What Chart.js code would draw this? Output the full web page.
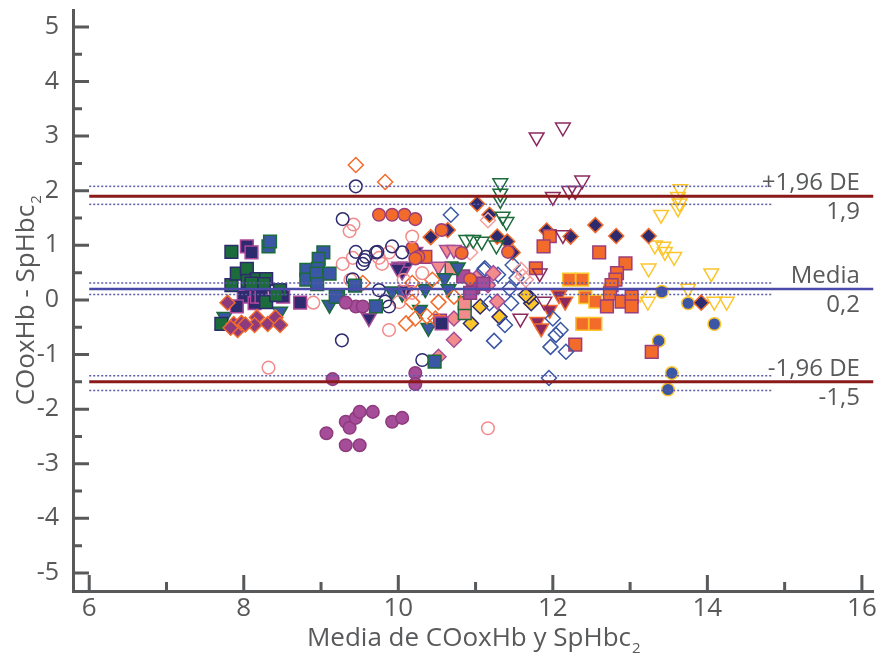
<!DOCTYPE html>
<html>
<head>
<meta charset="utf-8">
<script src="https://cdn.jsdelivr.net/npm/chart.js@4.4.1/dist/chart.umd.min.js"></script>
<style>
  html, body { margin: 0; padding: 0; background: #fff; }
  #wrap { width: 884px; height: 661px; }
</style>
</head>
<body>
<div id="wrap"><canvas id="chart"></canvas></div>
<script>
// ejes
const xTicks = [6, 8, 10, 12, 14, 16];
const xMinorTicks = [7, 9, 11, 13, 15];
const yTicks = [-5, -4, -3, -2, -1, 0, 1, 2, 3, 4, 5];
const yMinorTicks = [-4.5, -3.5, -2.5, -1.5, -0.5, 0.5, 1.5, 2.5, 3.5, 4.5];
const xTitle = 'Media de COoxHb y SpHbc';
const yTitle = 'COoxHb - SpHbc';
const titleSub = '2';

// limites de concordancia
const meanDiff = 0.2;
const upperLoA = 1.9;
const lowerLoA = -1.5;
const meanCI = [0.31, 0.10];
const upperCI = [2.08, 1.75];
const lowerCI = [-1.39, -1.66];
const refLabelsAbove = ['+1,96 DE', 'Media', '-1,96 DE'];
const refLabelsBelow = ['1,9', '0,2', '-1,5'];

// series (media, diferencia)
const greenSquares = [[7.84,0.88],[7.84,0.27],[7.91,0.48],[8.04,0.57],[8.05,0.35],[8.17,0.38],[8.29,0.38],[8.26,0.29],[8.29,-0.04],[7.71,-0.44],[8.47,0.18],[8.42,0.09],[8.1,0.3]];
const navySquares = [[8.04,0.98],[8.10,0.87],[8.0,0.06],[7.91,-0.12],[8.14,-0.06],[8.17,0.06],[8.23,0.06],[8.51,0.06],[8.73,-0.05],[10.56,-0.43]];
const blueSquares = [[8.32,0.98],[8.34,1.07],[9.03,0.87],[8.97,0.75],[8.81,0.55],[8.96,0.57],[9.11,0.48],[8.81,0.37],[8.94,0.48],[8.95,0.29],[9.22,0.06],[9.44,0.26],[9.19,0.06],[9.71,-0.12],[10.47,-1.13]];
const purpleDiamonds = [[7.79,-0.05],[7.87,-0.44],[7.92,-0.55],[7.97,-0.42],[8.17,-0.32],[8.14,-0.46],[8.31,-0.44],[8.41,-0.32],[8.47,-0.46],[7.83,-0.51],[8.02,-0.45]];
const blueTriangles = [[7.75,-0.31],[8.47,-0.21],[9.11,-0.09],[9.92,0.16],[10.35,0.2],[10.39,-0.51],[10.6,0.4],[10.77,0.6],[10.28,-0.18],[10.65,0.2],[10.05,0.12]];
const navyOpenCircles = [[9.45,2.08],[9.28,1.48],[9.45,0.88],[9.54,0.66],[9.58,0.79],[9.71,0.87],[9.92,0.98],[10.05,0.87],[9.41,0.38],[9.75,0.18],[9.83,-0.03],[9.88,-0.12],[9.27,-0.74],[10.31,-1.1],[9.56,0.73],[9.73,0.88]];
const pinkOpenCircles = [[9.37,1.26],[9.42,1.38],[9.28,0.66],[9.41,0.77],[9.75,0.77],[9.79,0.66],[9.88,0.87],[10.18,1.16],[8.9,-0.05],[9.88,-0.55],[10.01,-0.04],[10.07,0.37],[10.31,0.49],[10.18,0.13],[9.38,0.37],[11.16,-2.35],[8.32,-1.24]];
const magentaCircles = [[9.15,-1.45],[9.07,-2.44],[9.32,-2.23],[9.37,-2.34],[9.45,-2.16],[9.5,-2.05],[9.67,-2.05],[9.92,-2.23],[9.32,-2.66],[9.5,-2.66],[10.22,-1.34],[10.22,-1.54],[10.05,-2.16],[9.45,-0.12],[9.32,-0.05],[9.54,-0.12]];
const orangeCircles = [[9.75,1.56],[9.92,1.56],[10.08,1.56],[10.22,1.48],[10.18,0.95],[10.26,0.79],[10.56,1.28],[10.82,0.86],[10.93,0.38],[11.42,0.88],[10.22,0.76]];
const orangeOpenDiamonds = [[9.83,2.16],[9.45,2.47],[9.54,0.31],[10.44,0.37],[10.18,0.31],[10.18,-0.04],[10.52,-0.04],[10.1,-0.43],[10.22,-0.34],[10.48,-0.34],[10.37,-0.3],[10.72,0.06]];
const navyTriangles = [[10.22,0.88],[9.62,-0.33],[10.01,0.61],[10.1,0.61],[10.05,0.52],[10.1,0.18],[9.99,0.58]];
const navyDiamonds = [[11.02,1.76],[11.18,1.56],[10.64,1.28],[10.42,1.15],[11.28,1.16],[11.41,1.07],[11.48,0.87],[11.92,1.27],[12.23,1.16],[12.55,1.37],[12.82,1.17],[13.24,1.17],[13.92,-0.05]];
const pinkTriangles = [[10.63,0.92],[10.72,0.92],[10.52,0.61]];
const greenOpenTriangles = [[11.32,2.14],[11.32,1.95],[11.32,1.83],[11.35,1.53],[11.4,1.43],[10.88,1.1],[10.97,1.1],[11.08,1.07],[11.27,1.0]];
const pinkDiamonds = [[10.72,-0.34],[10.72,-0.73],[10.52,-1.04],[11.28,-0.03],[11.23,0.49],[11.01,0.4],[11.16,0.27]];
const blueOpenDiamonds = [[10.68,1.56],[11.12,0.58],[11.48,0.64],[11.29,0.46],[11.53,0.4],[11.44,0.21],[11.24,-0.75],[11.38,-0.46],[11.46,-0.06],[11.18,-0.06],[11.11,0.55],[12.0,-0.34],[11.97,-0.86],[12.1,-0.55],[12.17,-0.95],[12.04,-0.64],[11.95,-1.43]];
const yellowDiamonds = [[10.94,-0.43],[11.06,-0.12],[11.31,-0.31],[11.72,-0.06],[11.69,0.06],[11.65,0.09]];
const maroonOpenTriangles = [[11.79,2.98],[12.13,3.16],[12.38,2.19],[12.21,2.0],[12.29,2.0],[12.0,1.89],[12.13,1.19],[11.83,0.49],[11.89,-0.03],[11.58,-0.34]];
const maroonTriangles = [[12.08,0.09],[12.16,-0.03],[11.96,-0.18],[11.8,-0.4],[11.85,-0.52]];
const orangeSquares = [[11.96,1.17],[11.88,0.98],[12.6,0.87],[12.94,0.67],[12.83,0.49],[12.81,0.37],[12.76,0.27],[12.74,0.12],[12.7,-0.12],[12.89,-0.03],[13.02,0.06],[13.02,-0.12],[11.78,0.58],[12.29,-0.82],[13.28,-0.95],[10.35,0.79],[10.54,-0.38]];
const orangeYellowSquares = [[12.21,0.37],[12.38,0.37],[12.42,0.05],[12.55,-0.03],[12.38,-0.44],[12.55,-0.44],[12.74,0.18]];
const yellowOpenTriangles = [[13.65,2.03],[13.62,1.89],[13.64,1.77],[13.62,1.68],[13.4,1.56],[13.32,1.0],[13.43,0.98],[13.45,0.88],[13.57,0.79],[13.24,0.58],[14.05,0.49],[13.75,0.21],[13.23,-0.03],[14.09,-0.03],[14.25,-0.03],[13.13,0.12]];
const blueCircles = [[13.41,0.15],[13.75,-0.06],[14.09,-0.44],[13.37,-0.75],[13.54,-1.34],[13.49,-1.64]];
const pinkOpenDiamonds = [[11.16,1.46],[10.93,0.87],[11.59,0.55],[11.65,0.37],[11.61,0.43]];
const magentaSquares = [[10.84,0.43],[10.97,0.24],[10.93,0.13],[11.1,0.3]];
const pinkSquares = [[10.86,-0.24],[10.86,-0.06],[10.69,0.58]];

const textColor = '#58595b';
const fontFamily = "'Open Sans', sans-serif";
const navy = '#2e2a6e', green = '#1b6b3b', blue = '#3a56a5', magenta = '#a64d9a',
      orange = '#f26b2a', pink = '#f28c8c', yellow = '#fcc52b', maroon = '#8c2a5e',
      none = 'rgba(0,0,0,0)';

function markers(points, shape, fill, stroke, radius, rotation) {
    return {
        type: 'scatter',
        data: points.map(p => ({ x: p[0], y: p[1] })),
        pointStyle: shape,
        pointBackgroundColor: fill,
        pointBorderColor: stroke,
        pointBorderWidth: 1.5,
        pointRadius: radius,
        pointHoverRadius: radius,
        pointRotation: rotation || 0,
        order: 2
    };
}

function hline(value, x1, color, width, dash) {
    return {
        type: 'scatter',
        showLine: true,
        data: [{ x: 6, y: value }, { x: x1, y: value }],
        borderColor: color,
        borderWidth: width,
        borderDash: dash || [],
        pointRadius: 0,
        order: 1
    };
}

const dotted = '#5b5ba8';
const datasets = [
    markers(magentaCircles, 'circle', magenta, '#8e3b7e', 6.3),
    markers(purpleDiamonds, 'rectRot', '#8e3b7e', orange, 7.5),
    markers(greenSquares, 'rect', green, navy, 9),
    markers(navySquares, 'rect', navy, '#b0479a', 9),
    markers(blueSquares, 'rect', blue, green, 9),
    markers(navyOpenCircles, 'circle', none, navy, 6.3),
    markers(pinkOpenCircles, 'circle', none, pink, 6.3),
    markers(orangeCircles, 'circle', orange, '#9a3f7e', 6.3),
    markers(orangeOpenDiamonds, 'rectRot', none, orange, 7.5),
    markers(navyTriangles, 'triangle', navy, magenta, 8.5, 180),
    markers(blueTriangles, 'triangle', blue, green, 8.5, 180),
    markers(pinkTriangles, 'triangle', pink, magenta, 8.5, 180),
    markers(greenOpenTriangles, 'triangle', none, green, 8.5, 180),
    markers(magentaSquares, 'rect', magenta, '#8e3b7e', 9),
    markers(pinkSquares, 'rect', pink, green, 9),
    markers(pinkDiamonds, 'rectRot', pink, magenta, 7.5),
    markers(pinkOpenDiamonds, 'rectRot', none, '#f4a0a0', 7.5),
    markers(blueOpenDiamonds, 'rectRot', none, blue, 7.5),
    markers(yellowDiamonds, 'rectRot', yellow, navy, 7.5),
    markers(maroonOpenTriangles, 'triangle', none, maroon, 8.5, 180),
    markers(maroonTriangles, 'triangle', maroon, orange, 8.5, 180),
    markers(orangeSquares, 'rect', orange, '#9a3f7e', 9),
    markers(orangeYellowSquares, 'rect', orange, yellow, 9),
    markers(navyDiamonds, 'rectRot', navy, orange, 7.5),
    markers(yellowOpenTriangles, 'triangle', none, yellow, 8.5, 180),
    markers(blueCircles, 'circle', blue, yellow, 6.3),
    hline(upperCI[0], 14.85, dotted, 1.5, [2, 2]),
    hline(upperCI[1], 14.85, dotted, 1.5, [2, 2]),
    hline(meanCI[0], 14.85, dotted, 1.5, [2, 2]),
    hline(meanCI[1], 14.85, dotted, 1.5, [2, 2]),
    hline(lowerCI[0], 14.85, dotted, 1.5, [2, 2]),
    hline(lowerCI[1], 14.85, dotted, 1.5, [2, 2]),
    hline(upperLoA, 16.15, '#8b1a1a', 3),
    hline(meanDiff, 16.15, '#4a4aa8', 2.5),
    hline(lowerLoA, 16.15, '#8b1a1a', 3)
];

// marcas hacia dentro, textos de los limites y titulos con subindice
const decorations = {
    id: 'decorations',
    afterDraw(chart) {
        const { ctx, chartArea: a, scales: { x, y } } = chart;
        ctx.save();
        ctx.strokeStyle = textColor;
        ctx.lineWidth = 3;
        ctx.beginPath();
        xTicks.forEach(v => { const p = x.getPixelForValue(v); ctx.moveTo(p, a.bottom); ctx.lineTo(p, a.bottom - 16); });
        xMinorTicks.forEach(v => { const p = x.getPixelForValue(v); ctx.moveTo(p, a.bottom); ctx.lineTo(p, a.bottom - 9); });
        yTicks.forEach(v => { const p = y.getPixelForValue(v); ctx.moveTo(a.left, p); ctx.lineTo(a.left + 16, p); });
        yMinorTicks.forEach(v => { const p = y.getPixelForValue(v); ctx.moveTo(a.left, p); ctx.lineTo(a.left + 9, p); });
        ctx.stroke();

        ctx.fillStyle = textColor;
        ctx.font = '24px ' + fontFamily;
        ctx.textAlign = 'right';
        ctx.textBaseline = 'alphabetic';
        const right = x.getPixelForValue(16) - 2;
        [upperLoA, meanDiff, lowerLoA].forEach((v, i) => {
            const p = y.getPixelForValue(v);
            ctx.fillText(refLabelsAbove[i], right, p - 6);
            ctx.fillText(refLabelsBelow[i], right, p + 23);
        });

        // titulo eje x
        ctx.textAlign = 'left';
        ctx.font = '26px ' + fontFamily;
        const wMain = ctx.measureText(xTitle).width;
        ctx.font = '15px ' + fontFamily;
        const wSub = ctx.measureText(titleSub).width;
        let cx = (a.left + a.right) / 2;
        let sx = cx - (wMain + wSub) / 2;
        ctx.font = '26px ' + fontFamily;
        ctx.fillText(xTitle, sx, 646);
        ctx.font = '15px ' + fontFamily;
        ctx.fillText(titleSub, sx + wMain + 1, 653);

        // titulo eje y
        ctx.translate(34, (a.top + a.bottom) / 2);
        ctx.rotate(-Math.PI / 2);
        ctx.font = '26px ' + fontFamily;
        const wY = ctx.measureText(yTitle).width;
        sx = -(wY + wSub) / 2;
        ctx.fillText(yTitle, sx, 0);
        ctx.font = '15px ' + fontFamily;
        ctx.fillText(titleSub, sx + wY + 1, 7);
        ctx.restore();
    }
};

new Chart(document.getElementById('chart'), {
    type: 'scatter',
    data: { datasets: datasets },
    options: {
        responsive: true,
        maintainAspectRatio: false,
        animation: false,
        layout: { padding: { top: 10, right: 4, left: 0, bottom: 0 } },
        plugins: { legend: { display: false }, tooltip: { enabled: false } },
        scales: {
            x: {
                type: 'linear',
                min: 5.79,
                max: 16.15,
                afterBuildTicks: s => { s.ticks = xTicks.map(v => ({ value: v })); },
                afterFit: s => { s.height = 70; s.paddingLeft = 0; s.paddingRight = 0; },
                grid: { display: false, drawTicks: false },
                border: { display: true, color: textColor, width: 3 },
                ticks: { color: textColor, font: { family: fontFamily, size: 26 }, padding: 2, maxRotation: 0, autoSkip: false }
            },
            y: {
                type: 'linear',
                min: -5.33,
                max: 5.3,
                afterBuildTicks: s => { s.ticks = yTicks.map(v => ({ value: v })); },
                afterFit: s => { s.width = 73; s.paddingTop = 0; s.paddingBottom = 0; },
                grid: { display: false, drawTicks: false },
                border: { display: true, color: textColor, width: 3 },
                ticks: { color: textColor, font: { family: fontFamily, size: 25 }, padding: 14, autoSkip: false }
            }
        }
    },
    plugins: [decorations]
});
</script>
</body>
</html>
